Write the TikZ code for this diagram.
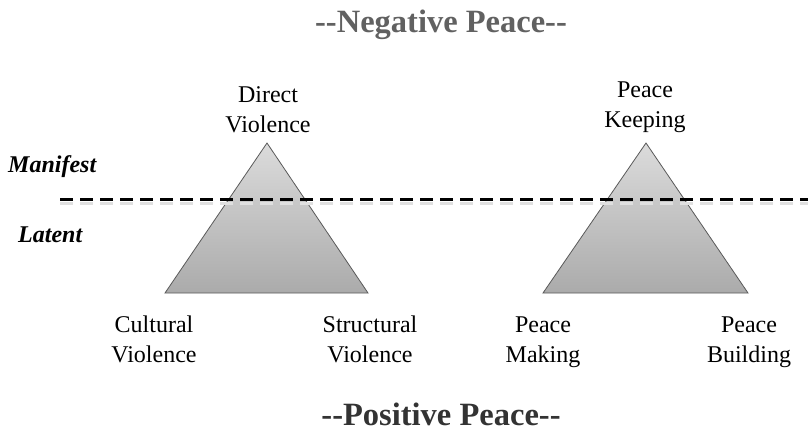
\documentclass[tikz,border=0pt]{standalone}
\usepackage{fontspec}
\setmainfont{Liberation Serif}
\begin{document}
\begin{tikzpicture}[x=1pt,y=-1pt,
  lbl/.style={align=center,inner sep=0pt,font=\fontsize{24}{30}\selectfont},
  ttl/.style={anchor=base,inner sep=0pt,font=\fontsize{32.5}{36}\selectfont\bfseries},
  side/.style={anchor=base west,inner sep=0pt,font=\fontsize{24}{26}\selectfont\bfseries\itshape},
  tri/.style={draw=black!65,line width=0.8pt,top color=black!14,bottom color=black!33},
  level/.style={line width=3pt,dash pattern=on 13pt off 7pt},
  levelshadow/.style={line width=3pt,dash pattern=on 13pt off 7pt,draw=black!12}]
\useasboundingbox (0,0) rectangle (808,434);
% titles
\node[ttl,text=black!62] (neg) at (441,32) {-{}-Negative Peace-{}-};
\node[ttl,text=black!80] (pos) at (441,425) {-{}-Positive Peace-{}-};
% side labels
\node[side] (manifest) at (8,172) {Manifest};
\node[side] (latent) at (18,242) {Latent};
% triangles
\coordinate (v1a) at (267,143);
\coordinate (v1b) at (165,293);
\coordinate (v1c) at (368,293);
\coordinate (p1a) at (646,143);
\coordinate (p1b) at (543,293);
\coordinate (p1c) at (748,293);
\path[tri] (v1a) -- (v1b) -- (v1c) -- cycle;
\path[tri] (p1a) -- (p1b) -- (p1c) -- cycle;
% dashed level line
\coordinate (lineL) at (60,199);
\coordinate (lineR) at (812,199);
\coordinate (shL) at (60,203.5);
\coordinate (shR) at (812,203.5);
\draw[levelshadow] (shL) -- (shR);
\draw[level] (lineL) -- (lineR);
% corner labels
\node[lbl] (direct) at (268,110) {Direct\\Violence};
\node[lbl] (cultural) at (154,339) {Cultural\\Violence};
\node[lbl] (structural) at (370,339) {Structural\\Violence};
\node[lbl] (keeping) at (645,107) {Peace\\Keeping};
\node[lbl] (making) at (543,342) {Peace\\Making};
\node[lbl] (building) at (749,342) {Peace\\Building};
\end{tikzpicture}
\end{document}
